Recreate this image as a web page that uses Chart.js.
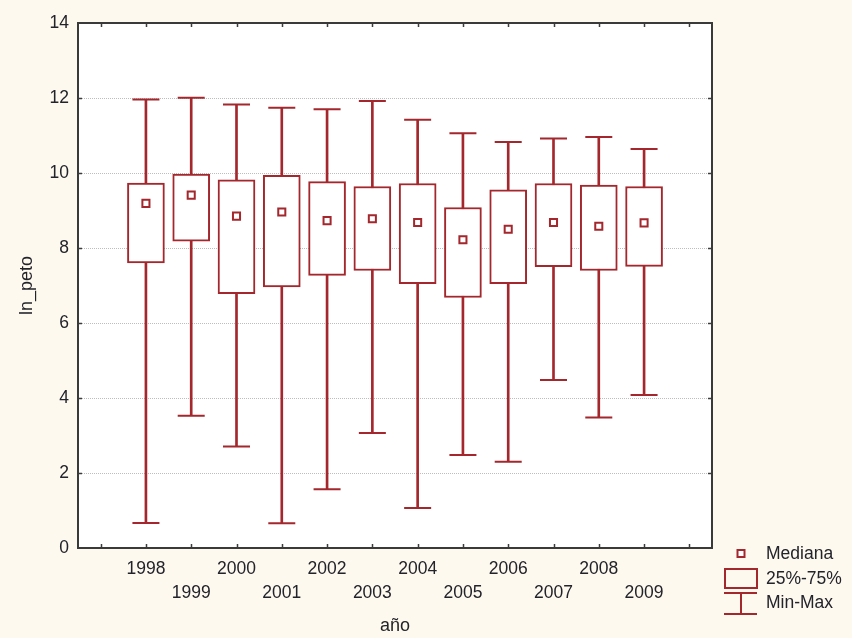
<!DOCTYPE html>
<html>
<head>
<meta charset="utf-8">
<script src="https://cdn.jsdelivr.net/npm/chart.js@4/dist/chart.umd.min.js"></script>
<style>
  html, body { margin: 0; padding: 0; background: #fdf9ef; }
  canvas { display: block; }
</style>
</head>
<body>
<canvas id="c" width="852" height="638"></canvas>
<script>
// ln_peto by year: min, quartiles, median and max
const years      = ['1998', '1999', '2000', '2001', '2002', '2003', '2004', '2005', '2006', '2007', '2008', '2009'];
const maxVals    = [11.96, 12.01, 11.83, 11.74, 11.70, 11.92, 11.42, 11.06, 10.83, 10.92, 10.96, 10.64];
const q3Vals     = [9.73, 9.97, 9.82, 9.94, 9.77, 9.64, 9.72, 9.08, 9.55, 9.72, 9.68, 9.64];
const medianVals = [9.19, 9.41, 8.85, 8.96, 8.73, 8.78, 8.68, 8.22, 8.50, 8.68, 8.58, 8.67];
const q1Vals     = [7.60, 8.18, 6.78, 6.96, 7.27, 7.40, 7.05, 6.68, 7.05, 7.50, 7.40, 7.51];
const minVals    = [0.67, 3.53, 2.71, 0.66, 1.57, 3.07, 1.07, 2.48, 2.30, 4.48, 3.48, 4.08];
const yTicks     = [0, 2, 4, 6, 8, 10, 12, 14];
const legendLabels = ['Mediana', '25%-75%', 'Min-Max'];

const RED = '#a3272c';
const TEXT = '#23232b';
const FONT = "'Liberation Sans', Arial, sans-serif";

// one empty slot on each side of the years; odd years go on a second label line
const pad = arr => [null, ...arr, null];
const labels = ['', ...years.map((y, i) => (i % 2 === 0 ? [y] : ['', y])), ''];

const whiskers = pad(years.map((_, i) => [minVals[i], maxVals[i]]));
const boxes    = pad(years.map((_, i) => [q1Vals[i], q3Vals[i]]));

const framePlugin = {
  id: 'frame',
  beforeDraw(chart) {
    const { ctx, chartArea: a } = chart;
    ctx.save();
    ctx.fillStyle = '#fdf9ef';
    ctx.fillRect(0, 0, chart.width, chart.height);
    ctx.fillStyle = '#ffffff';
    ctx.fillRect(a.left, a.top, a.right - a.left, a.bottom - a.top);
    ctx.restore();
  },
  afterDraw(chart) {
    const { ctx, chartArea: a, scales } = chart;
    ctx.save();
    ctx.strokeStyle = '#3c3c3c';
    ctx.lineWidth = 1.5;
    const t = 4;
    ctx.beginPath();
    scales.x.ticks.forEach((_, i) => {
      const x = Math.round(scales.x.getPixelForTick(i)) + 0.5;
      ctx.moveTo(x, a.top); ctx.lineTo(x, a.top + t);
      ctx.moveTo(x, a.bottom); ctx.lineTo(x, a.bottom - t);
    });
    yTicks.slice(1, -1).forEach(v => {
      const y = Math.round(scales.y.getPixelForValue(v)) + 0.5;
      ctx.moveTo(a.left, y); ctx.lineTo(a.left + t, y);
      ctx.moveTo(a.right, y); ctx.lineTo(a.right - t, y);
    });
    ctx.stroke();
    ctx.lineWidth = 2;
    ctx.strokeStyle = '#3a3a3a';
    ctx.strokeRect(a.left, a.top, a.right - a.left, a.bottom - a.top);
    ctx.restore();
  }
};

const legendPlugin = {
  id: 'boxLegend',
  afterDraw(chart) {
    const { ctx, chartArea: a } = chart;
    const cx = a.right + 29;
    const tx = a.right + 54;
    const b = a.bottom;
    ctx.save();
    ctx.strokeStyle = RED;
    ctx.lineWidth = 2;
    // median marker
    ctx.fillStyle = '#fff';
    ctx.fillRect(cx - 3.5, b + 2, 7, 7);
    ctx.strokeRect(cx - 3.5, b + 2, 7, 7);
    // quartile box
    ctx.strokeRect(cx - 16, b + 21, 32, 19);
    // min-max whisker
    ctx.beginPath();
    ctx.moveTo(cx - 17, b + 45); ctx.lineTo(cx + 16, b + 45);
    ctx.moveTo(cx, b + 45); ctx.lineTo(cx, b + 66);
    ctx.moveTo(cx - 17, b + 66); ctx.lineTo(cx + 16, b + 66);
    ctx.stroke();
    ctx.fillStyle = TEXT;
    ctx.font = '17.5px ' + FONT;
    ctx.textBaseline = 'middle';
    ctx.textAlign = 'left';
    ctx.fillText(legendLabels[0], tx, b + 6);
    ctx.fillText(legendLabels[1], tx, b + 31);
    ctx.fillText(legendLabels[2], tx, b + 55);
    ctx.restore();
  }
};

new Chart(document.getElementById('c'), {
  type: 'bar',
  data: {
    labels,
    datasets: [
      {
        type: 'bar', label: 'Min-Max', data: whiskers, order: 4,
        backgroundColor: RED, borderWidth: 0, barThickness: 2, grouped: false
      },
      {
        type: 'bar', label: '25%-75%', data: boxes, order: 3,
        backgroundColor: '#ffffff', borderColor: RED, borderWidth: 2,
        borderSkipped: false, barThickness: 37, grouped: false
      },
      {
        type: 'line', label: 'Max', data: pad(maxVals), order: 2, showLine: false,
        pointStyle: 'line', pointRadius: 13.5, pointBorderWidth: 2, pointBorderColor: RED
      },
      {
        type: 'line', label: 'Min', data: pad(minVals), order: 2, showLine: false,
        pointStyle: 'line', pointRadius: 13.5, pointBorderWidth: 2, pointBorderColor: RED
      },
      {
        type: 'line', label: 'Mediana', data: pad(medianVals), order: 1, showLine: false,
        pointStyle: 'rect', pointRadius: 5, pointBorderWidth: 2,
        pointBorderColor: RED, pointBackgroundColor: '#ffffff'
      }
    ]
  },
  options: {
    responsive: false,
    animation: false,
    events: [],
    layout: { padding: { top: 23, right: 140, bottom: 0, left: 0 } },
    plugins: { legend: { display: false }, tooltip: { enabled: false } },
    scales: {
      x: {
        type: 'category',
        offset: true,
        grid: { display: false, drawTicks: false, offset: false },
        border: { display: false },
        ticks: {
          autoSkip: false, maxRotation: 0, padding: 10, color: TEXT,
          font: { family: FONT, size: 17.5, lineHeight: 1.33 }
        },
        title: {
          display: true, text: 'año', color: TEXT,
          font: { family: FONT, size: 18 }, padding: { top: 0, bottom: 1 }
        },
        afterFit(scale) { scale.height = 90; }
      },
      y: {
        min: 0, max: 14,
        afterBuildTicks(scale) { scale.ticks = yTicks.map(v => ({ value: v })); },
        grid: {
          drawTicks: false,
          lineWidth: 1,
          color: ctx => (ctx.tick && (ctx.tick.value === 0 || ctx.tick.value === 14)) ? 'rgba(0,0,0,0)' : '#bdbdbd'
        },
        border: { display: false, dash: [1, 1] },
        ticks: { padding: 9, color: TEXT, font: { family: FONT, size: 17.5 } },
        title: {
          display: true, text: 'ln_peto', color: TEXT,
          font: { family: FONT, size: 18 }, padding: { top: 16, bottom: 0 }
        },
        afterFit(scale) { scale.width = 78; }
      }
    }
  },
  plugins: [framePlugin, legendPlugin]
});
</script>
</body>
</html>
